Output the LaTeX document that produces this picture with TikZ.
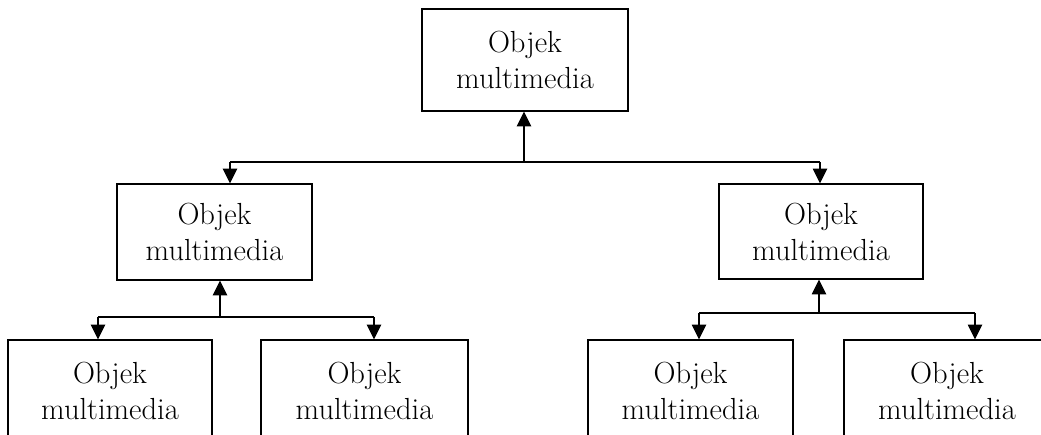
\documentclass[tikz,border=0pt]{standalone}
\usetikzlibrary{arrows.meta}
\begin{document}
\begin{tikzpicture}[x=1pt,y=-1pt,
  obj/.style={draw=black,line width=1.9pt,fill=white,inner sep=0pt,
    align=center,font=\fontsize{30.5}{36}\selectfont},
  link/.style={line width=2.5pt,-{Triangle[length=15pt,width=14pt]},shorten >=-0.5pt},
  bus/.style={line width=2.3pt}]
\useasboundingbox (0,0) rectangle (1041,435);
\begin{scope}
\clip (0,0) rectangle (1041,435);
% boxes
\node[obj,minimum width=206pt,minimum height=102pt] (top) at (525,60) {Objek\\multimedia};
\node[obj,minimum width=195pt,minimum height=96pt] (ml) at (214.5,232) {Objek\\multimedia};
\node[obj,minimum width=204pt,minimum height=95pt] (mr) at (821,231.5) {Objek\\multimedia};
\node[obj,minimum width=204pt,minimum height=101pt] (b1) at (110,390.5) {Objek\\multimedia};
\node[obj,minimum width=207pt,minimum height=101pt] (b2) at (364.5,390.5) {Objek\\multimedia};
\node[obj,minimum width=205pt,minimum height=101pt] (b3) at (690.5,390.5) {Objek\\multimedia};
\node[obj,minimum width=206pt,minimum height=101pt] (b4) at (947,390.5) {Objek\\multimedia};
% bus coordinates
\coordinate (tA) at (230,162);
\coordinate (tM) at (524,162);
\coordinate (tB) at (820,162);
\coordinate (lA) at (98,317);
\coordinate (lM) at (220,317);
\coordinate (lB) at (374,317);
\coordinate (rA) at (699,313);
\coordinate (rM) at (819,313);
\coordinate (rB) at (975,313);
% upper level
\draw[bus] (tA) -- (tB);
\draw[link] (tM) -- (tM |- top.south);
\draw[link] (tA) -- (tA |- ml.north);
\draw[link] (tB) -- (tB |- mr.north);
% lower left
\draw[bus] (lA) -- (lB);
\draw[link] (lM) -- (lM |- ml.south);
\draw[link] (lA) -- (lA |- b1.north);
\draw[link] (lB) -- (lB |- b2.north);
% lower right
\draw[bus] (rA) -- (rB);
\draw[link] (rM) -- (rM |- mr.south);
\draw[link] (rA) -- (rA |- b3.north);
\draw[link] (rB) -- (rB |- b4.north);
\end{scope}
\end{tikzpicture}
\end{document}
